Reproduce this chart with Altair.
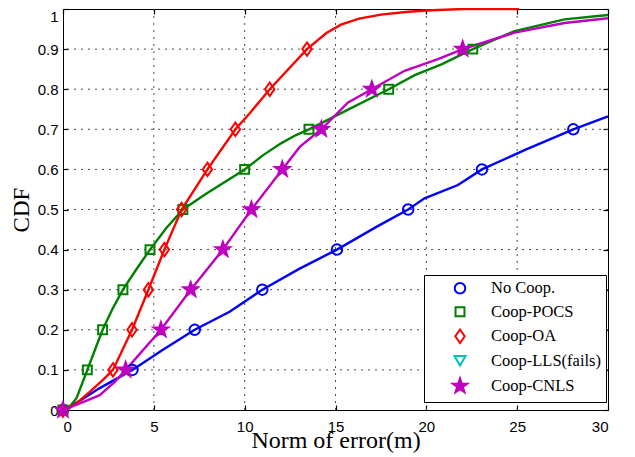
import math
import altair as alt
import pandas as pd

# ---------------- data ----------------
series = ["No Coop.", "Coop-POCS", "Coop-OA", "Coop-LLS(fails)", "Coop-CNLS"]
colors = ["#0000FF", "#008000", "#FF0000", "#00BFBF", "#BF00BF"]

nocoop_x = [0, 1.0, 2.0, 3.82, 5.5, 7.25, 9.17, 10.97, 13.0, 15.08, 17.3, 19.0, 19.9, 21.74, 23.06, 25.5, 28.09, 30.0]
nocoop_y = [0, 0.025, 0.054, 0.1, 0.15, 0.2, 0.245, 0.3, 0.352, 0.4, 0.458, 0.5, 0.528, 0.561, 0.6, 0.65, 0.7, 0.732]

pocs_x = [0, 0.4, 0.75, 1.34, 2.18, 2.7, 3.30, 4.04, 4.79, 5.69, 6.6, 7.9, 10.0, 11.0, 12.0, 12.8, 13.54, 15.69, 17.93, 19.36, 20.83, 22.56, 24.86, 27.6, 30.0]
pocs_y = [0, 0.01, 0.03, 0.1, 0.2, 0.25, 0.3, 0.351, 0.4, 0.454, 0.5, 0.54, 0.6, 0.635, 0.665, 0.685, 0.7, 0.749, 0.8, 0.835, 0.862, 0.9, 0.945, 0.974, 0.985]

oa_x = [0, 0.7, 1.47, 2.2, 2.75, 3.8, 4.7, 5.58, 6.53, 7.95, 9.49, 10.28, 11.38, 13.43, 14.5, 15.3, 16.3, 17.5, 19.0, 20.3, 22.0, 25.1]
oa_y = [0, 0.015, 0.045, 0.075, 0.1, 0.2, 0.3, 0.4, 0.5, 0.6, 0.7, 0.74, 0.8, 0.9, 0.94, 0.961, 0.976, 0.986, 0.993, 0.997, 1.0, 1.0]

cnls_x = [0, 1.0, 2.02, 2.85, 3.45, 5.39, 7.03, 8.8, 10.37, 12.07, 13.03, 14.22, 15.69, 17.0, 18.8, 20.64, 22.0, 24.86, 27.6, 30.0]
cnls_y = [0, 0.018, 0.037, 0.07, 0.1, 0.2, 0.3, 0.4, 0.5, 0.6, 0.656, 0.7, 0.767, 0.8, 0.846, 0.875, 0.9, 0.941, 0.965, 0.977]

nocoop_mx = [0, 3.82, 7.25, 10.97, 15.08, 19.0, 23.06, 28.09]
nocoop_my = [0, 0.1, 0.2, 0.3, 0.4, 0.5, 0.6, 0.7]
pocs_mx = [0, 1.34, 2.18, 3.30, 4.79, 6.6, 10.0, 13.54, 17.93, 22.56]
pocs_my = [0, 0.1, 0.2, 0.3, 0.4, 0.5, 0.6, 0.7, 0.8, 0.9]
oa_mx = [0, 2.75, 3.8, 4.7, 5.58, 6.53, 7.95, 9.49, 11.38, 13.43]
oa_my = [0, 0.1, 0.2, 0.3, 0.4, 0.5, 0.6, 0.7, 0.8, 0.9]
cnls_mx = [0, 3.45, 5.39, 7.03, 8.8, 10.37, 12.07, 14.22, 17.0, 22.0]
cnls_my = [0, 0.1, 0.2, 0.3, 0.4, 0.5, 0.6, 0.7, 0.8, 0.9]

x_ticks = [0, 5, 10, 15, 20, 25, 30]
y_ticks = [0, 0.1, 0.2, 0.3, 0.4, 0.5, 0.6, 0.7, 0.8, 0.9, 1]

def long(name, xs, ys):
    return pd.DataFrame({"series": name, "x": xs, "y": ys})

lines_df = pd.concat([
    long(series[0], nocoop_x, nocoop_y),
    long(series[1], pocs_x, pocs_y),
    long(series[2], oa_x, oa_y),
    long(series[4], cnls_x, cnls_y),
], ignore_index=True)

marks_df = pd.concat([
    long(series[0], nocoop_mx, nocoop_my),
    long(series[1], pocs_mx, pocs_my),
    long(series[2], oa_mx, oa_my),
    long(series[4], cnls_mx, cnls_my),
], ignore_index=True)

# interior grid lines (the box covers the outer ones)
gx_df = pd.DataFrame({"v": [v for v in x_ticks if 0 < v < 30]})
gy_df = pd.DataFrame({"v": [v for v in y_ticks if 0 < v < 1]})

pts = []
for k in range(10):
    a = math.radians(-90 + 36 * k)
    r = 1.0 if k % 2 == 0 else 0.40
    pts.append(f"{r * math.cos(a):.3f},{r * math.sin(a):.3f}")
star = "M" + " L".join(pts) + " Z"
diamond = "M0,-1 L0.7,0 L0,1 L-0.7,0 Z"

shapes = ["circle", "square", diamond, "triangle-down", star]
sizes = [110, 80, 180, 120, 240]
fills = ["transparent", "transparent", "transparent", "transparent", "#BF00BF"]

SANS = "Liberation Sans"
SERIF = "Liberation Serif"

xscale = alt.Scale(domain=[0, 30], nice=False, zero=False)
yscale = alt.Scale(domain=[0, 1], nice=False)

legend = alt.Legend(
    title=None, orient="none", legendX=361, legendY=266,
    padding=5, strokeColor="black", fillColor="white",
    symbolOffset=22, labelOffset=22, labelFont=SERIF, labelFontSize=16.5,
    labelColor="black", rowPadding=4.5, symbolStrokeWidth=2, labelLimit=200,
)

line_names = [series[i] for i in (0, 1, 2, 4)]
line_colors = [colors[i] for i in (0, 1, 2, 4)]

grid_style = dict(strokeDash=[2, 5], stroke="#4a4a4a", strokeWidth=1, strokeOpacity=1)

vgrid = alt.Chart(gx_df).mark_rule(**grid_style).encode(
    x=alt.X("v:Q", scale=xscale, axis=None)
)
hgrid = alt.Chart(gy_df).mark_rule(**grid_style).encode(
    y=alt.Y("v:Q", scale=yscale, axis=None)
)

lines = alt.Chart(lines_df).mark_line(strokeWidth=2.4).encode(
    x=alt.X("x:Q", scale=xscale, axis=alt.Axis(
        orient="bottom", values=x_ticks, title="Norm of error(m)", grid=False,
        domain=False, ticks=True, tickSize=5, tickWidth=1.2, tickColor="black", offset=-5,
        labelPadding=9, labelFont=SANS, labelFontSize=15, labelColor="black",
        titleFont=SERIF, titleFontSize=24, titleFontWeight="normal", titleColor="black",
        titleBaseline="alphabetic", titleY=42,
    )),
    y=alt.Y("y:Q", scale=yscale, axis=alt.Axis(
        orient="left", values=y_ticks, format="~g", title="CDF", grid=False,
        domain=False, ticks=True, tickSize=5, tickWidth=1.2, tickColor="black", offset=-5,
        labelPadding=5, labelFont=SANS, labelFontSize=15, labelColor="black",
        labelBaseline={"condition": {"test": "datum.value == 1", "value": "top"}, "value": "middle"},
        titleFont=SERIF, titleFontSize=23, titleFontWeight="normal", titleColor="black",
        titleBaseline="alphabetic", titleAngle=270, titleX=-40,
    )),
    color=alt.Color("series:N", scale=alt.Scale(domain=line_names, range=line_colors), legend=None),
    order=alt.Order("x:Q"),
)

points = alt.Chart(marks_df).mark_point(strokeWidth=2, opacity=1).encode(
    x=alt.X("x:Q", scale=xscale, axis=alt.Axis(
        orient="top", values=x_ticks, title=None, labels=False, grid=False,
        domain=False, ticks=True, tickSize=5, tickWidth=1.2, tickColor="black", offset=-5,
    )),
    y=alt.Y("y:Q", scale=yscale, axis=alt.Axis(
        orient="right", values=y_ticks, title=None, labels=False, grid=False,
        domain=False, ticks=True, tickSize=5, tickWidth=1.2, tickColor="black", offset=-5,
    )),
    stroke=alt.Stroke("series:N", scale=alt.Scale(domain=series, range=colors), legend=legend),
    fill=alt.Fill("series:N", scale=alt.Scale(domain=series, range=fills), legend=legend),
    shape=alt.Shape("series:N", scale=alt.Scale(domain=series, range=shapes), legend=legend),
    size=alt.Size("series:N", scale=alt.Scale(type="ordinal", domain=series, range=sizes), legend=legend),
)

chart = alt.layer(vgrid, hgrid, lines, points).resolve_axis(
    x="independent", y="independent"
).properties(
    width=545, height=401,
    padding={"left": 55, "top": 1, "right": 12, "bottom": 47},
    autosize=alt.AutoSizeParams(type="none"),
    background="white",
).configure_view(stroke="black", strokeWidth=1)

chart.save("out.html", embed_options={"renderer": "svg", "actions": False})
